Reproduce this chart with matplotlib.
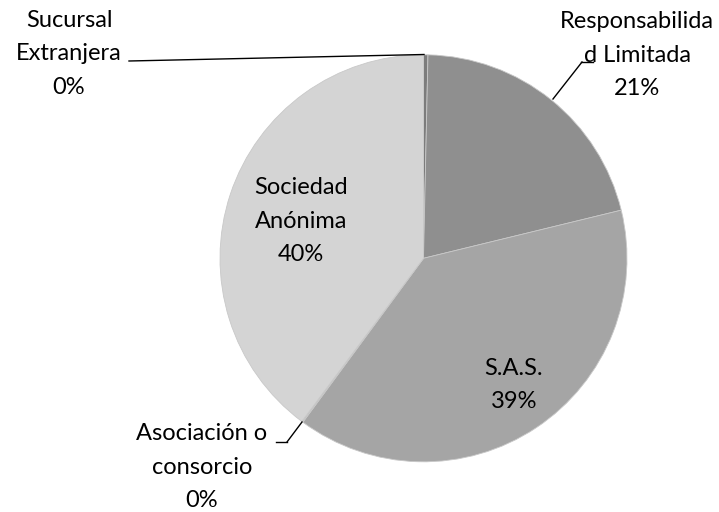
import matplotlib.pyplot as plt

# share of companies by legal type (clockwise from 12 o'clock)
categories = ["Sucursal\nExtranjera", "Responsabilida\nd Limitada", "S.A.S.",
              "Asociación o\nconsorcio", "Sociedad\nAnónima"]
shares = [0.35, 20.85, 38.9, 0.1, 39.8]
colors = ["#7c7c7c", "#8f8f8f", "#a5a5a5", "#bdbdbd", "#d4d4d4"]

W, H = 719, 512
fig = plt.figure(figsize=(W / 100, H / 100), dpi=100)
ax = fig.add_axes([0, 0, 1, 1])

cx, cy, r = 423.5, H - 258.3, 203.5
ax.pie(shares, colors=colors, startangle=90, counterclock=False,
       center=(cx, cy), radius=r, frame=True,
       wedgeprops=dict(edgecolor="#c8c8c8", linewidth=0.6))
ax.set_xlim(0, W)
ax.set_ylim(0, H)
ax.set_aspect("equal")
ax.axis("off")

total = sum(shares)
labels = [f"{c}\n{round(v / total * 100)}%" for c, v in zip(categories, shares)]

# label centres in pixel coords (y down)
label_pos = [(69, 54), (637, 55), (514, 385), (202, 467), (301, 221)]
for lab, (x, y) in zip(labels, label_pos):
    ax.text(x, H - y, lab, ha="center", va="center", fontsize=17,
            family="Lato", linespacing=1.72, color="#000000")

# leader lines
ax.plot([129, 424], [H - 61, H - 54.5], color="black", lw=1)
ax.plot([581, 593], [H - 62, H - 62], color="black", lw=1)
ax.plot([582, 553], [H - 62, H - 99], color="black", lw=1)
ax.plot([276, 287], [H - 442, H - 442], color="black", lw=1)
ax.plot([287, 302], [H - 442, H - 422], color="black", lw=1)

fig.savefig("out.png", dpi=100)
